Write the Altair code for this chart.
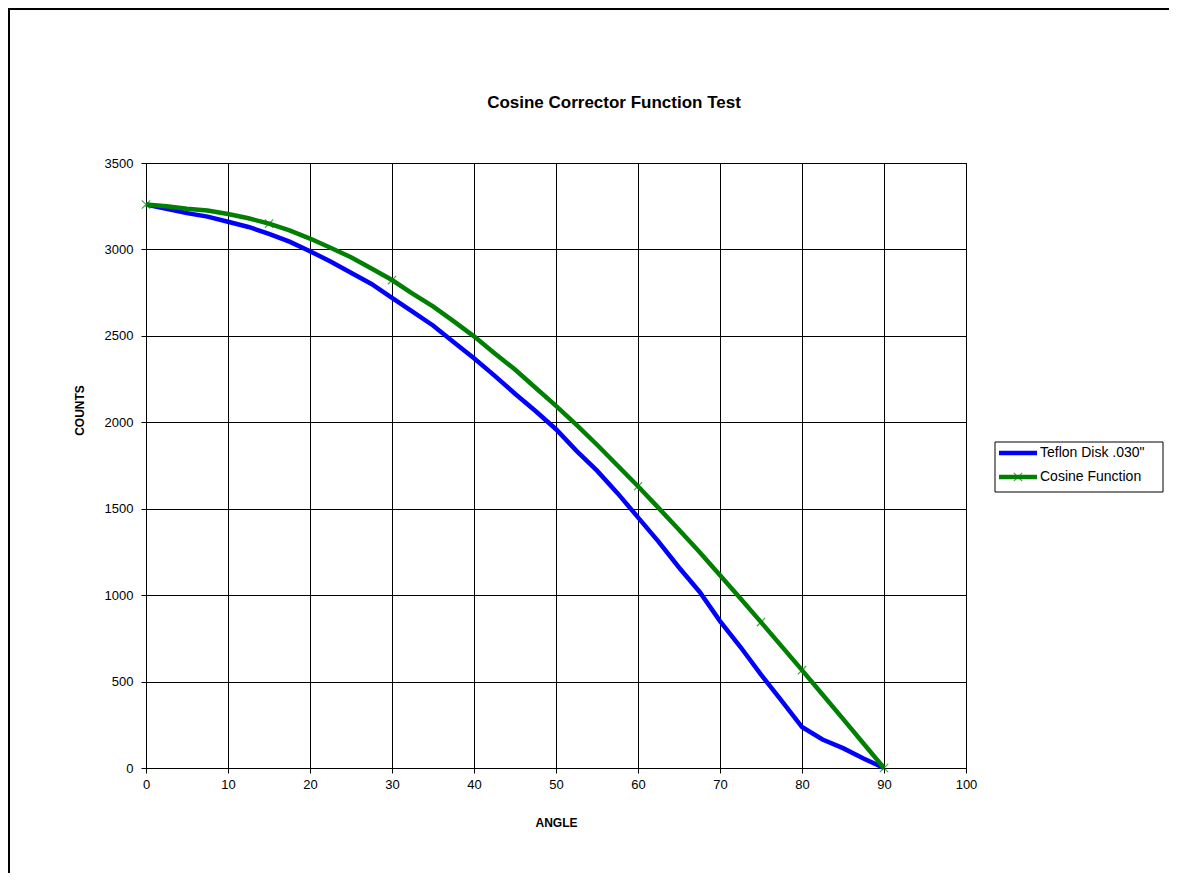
import altair as alt
import pandas as pd

angles = [0, 2.5, 5, 7.5, 10, 12.5, 15, 17.5, 20, 22.5, 25, 27.5, 30, 32.5, 35, 37.5,
          40, 42.5, 45, 47.5, 50, 52.5, 55, 57.5, 60, 62.5, 65, 67.5, 70, 72.5, 75,
          77.5, 80, 82.5, 85, 87.5, 90]
teflon = [3260, 3235, 3210, 3190, 3160, 3130, 3090, 3045, 2990, 2930, 2865, 2800, 2720,
          2640, 2560, 2465, 2370, 2270, 2165, 2065, 1960, 1835, 1720, 1590, 1450, 1310,
          1160, 1020, 850, 700, 540, 390, 237, 165, 115, 55, 0]
cosine = [3260, 3250, 3235, 3225, 3205, 3180, 3149, 3110, 3063, 3010, 2955, 2890, 2823,
          2745, 2670, 2585, 2497, 2400, 2305, 2200, 2095, 1985, 1870, 1750, 1630, 1505,
          1378, 1250, 1115, 980, 844, 705, 566, 425, 284, 142, 0]
marker_angles = [0, 15, 30, 60, 75, 80, 90]

series_names = ['Teflon Disk .030"', "Cosine Function"]
series_colors = ["#0000FF", "#008000"]
x_ticks = [0, 10, 20, 30, 40, 50, 60, 70, 80, 90, 100]
y_ticks = [0, 500, 1000, 1500, 2000, 2500, 3000, 3500]
title_text = "Cosine Corrector Function Test"

FONT = "Liberation Sans"

df_t = pd.DataFrame({"angle": angles, "counts": teflon, "series": series_names[0]})
df_c = pd.DataFrame({"angle": angles, "counts": cosine, "series": series_names[1]})
df_m = df_c[df_c["angle"].isin(marker_angles)]

x_enc = alt.X(
    "angle:Q",
    scale=alt.Scale(domain=[0, 100], nice=False, zero=False),
    axis=alt.Axis(
        values=x_ticks, title="ANGLE", titleX=410, titleY=54, titleAlign="center",
        titleBaseline="middle", titleFont=FONT, titleFontSize=12, titleFontWeight="bold",
        labelFlush=False, labelPadding=5, format="d",
    ),
)
y_enc = alt.Y(
    "counts:Q",
    scale=alt.Scale(domain=[0, 3500], nice=False),
    axis=alt.Axis(
        values=y_ticks, title="COUNTS", titleX=-67, titleY=247, titleAlign="center",
        titleBaseline="middle", titleAngle=270, titleFont=FONT, titleFontSize=12,
        titleFontWeight="bold", labelPadding=8, format="d",
    ),
)
color_enc = alt.Color(
    "series:N",
    scale=alt.Scale(domain=series_names, range=series_colors),
    legend=None,
)

line_t = alt.Chart(df_t).mark_line(strokeWidth=4.5).encode(x=x_enc, y=y_enc, color=color_enc)
line_c = alt.Chart(df_c).mark_line(strokeWidth=4.5).encode(x=x_enc, y=y_enc, color=color_enc)
markers = alt.Chart(df_m).mark_point(
    shape="M-1,-1L1,1M1,-1L-1,1", size=70, stroke="#008000", strokeWidth=1.2, filled=False
).encode(x=x_enc, y=y_enc)

title = alt.Chart(pd.DataFrame({"t": [title_text]})).mark_text(
    font=FONT, fontSize=17, fontWeight="bold", color="black", align="center", baseline="middle"
).encode(text="t:N", x=alt.value(468), y=alt.value(-60))

one = pd.DataFrame({"k": [0]})
border_top = alt.Chart(one).mark_rule(color="black", strokeWidth=2).encode(
    x=alt.value(-138), x2=alt.value(1030), y=alt.value(-154)
)
border_left = alt.Chart(one).mark_rule(color="black", strokeWidth=2).encode(
    x=alt.value(-137), y=alt.value(-155), y2=alt.value(720)
)

# legend (drawn by hand to match the box layout)
leg_box = alt.Chart(one).mark_rect(fill="white", stroke="black", strokeWidth=1).encode(
    x=alt.value(849), x2=alt.value(1017), y=alt.value(279), y2=alt.value(329)
)
leg_df = pd.DataFrame({"series": series_names, "ly": [290, 314]})
leg_lines = alt.Chart(leg_df).mark_rule(strokeWidth=4.5).encode(
    x=alt.value(853), x2=alt.value(891), y=alt.Y("ly:Q", scale=None), color=color_enc
)
leg_text = alt.Chart(leg_df).mark_text(
    font=FONT, fontSize=14, color="black", align="left", baseline="middle"
).encode(x=alt.value(894), y=alt.Y("ly:Q", scale=None), text="series:N")
leg_mark = alt.Chart(leg_df[leg_df["series"] == series_names[1]]).mark_point(
    shape="M-1,-1L1,1M1,-1L-1,1", size=70, stroke="#008000", strokeWidth=1.2, filled=False
).encode(x=alt.value(872), y=alt.Y("ly:Q", scale=None))

chart = alt.layer(
    border_top, border_left, line_t, line_c, markers, title,
    leg_box, leg_lines, leg_text, leg_mark,
).properties(
    width=820, height=605,
    autosize=alt.AutoSizeParams(type="none"),
    padding={"left": 138, "top": 155, "right": 203, "bottom": 105},
    background="white",
).configure_view(stroke="black", strokeWidth=1).configure_axis(
    grid=True, gridColor="black", gridWidth=1, gridOpacity=1,
    domainColor="black", domainWidth=1, tickColor="black", tickSize=5,
    labelFont=FONT, labelFontSize=13, labelColor="black", titleColor="black",
)

chart.save("out.html", embed_options={"renderer": "svg", "actions": False})
